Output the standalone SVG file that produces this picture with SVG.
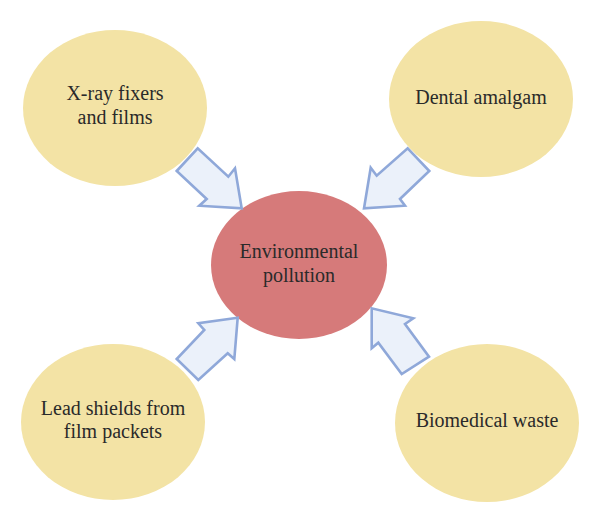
<svg xmlns="http://www.w3.org/2000/svg" width="600" height="522" viewBox="0 0 600 522">
<style>
.src{fill:#F3E3A5;}
.ctr{fill:#D67A7A;}
.arr{fill:#EBF1FA;stroke:#8FA8D9;stroke-width:2.6;stroke-linejoin:miter;}
text{font-family:"Liberation Serif","Times New Roman",serif;font-size:20px;fill:#2a2a2a;text-anchor:middle;}
</style>
<rect width="600" height="522" fill="#ffffff"/>
<g id="node-xray">
<ellipse class="src" cx="115" cy="108" rx="92" ry="78"/>
<text x="115" y="100">X-ray fixers</text>
<text x="115" y="124">and films</text>
</g>
<g id="node-dental">
<ellipse class="src" cx="481" cy="99" rx="92" ry="78"/>
<text x="481" y="104">Dental amalgam</text>
</g>
<g id="node-lead">
<ellipse class="src" cx="113" cy="422" rx="92" ry="78"/>
<text x="113" y="415">Lead shields from</text>
<text x="113" y="438">film packets</text>
</g>
<g id="node-bio">
<ellipse class="src" cx="487" cy="423" rx="92" ry="79"/>
<text x="487" y="427">Biomedical waste</text>
</g>
<g id="node-env">
<ellipse class="ctr" cx="299" cy="265" rx="88" ry="74"/>
<text x="299" y="258">Environmental</text>
<text x="299" y="282">pollution</text>
</g>
<g id="connectors">
<polygon class="arr" points="176.7,171 197.7,148.3 228.3,176.7 235,168.3 241.7,208.3 199.3,205.7 206.7,199"/>
<polygon class="arr" points="407.7,148.3 429.3,171 400,199 405,205.7 364,208.3 370.7,167.7 376.7,175.7"/>
<polygon class="arr" points="237.7,317.7 198.3,323.3 204.3,330 176.7,359 198.3,380 227.7,353.3 234.3,359"/>
<polygon class="arr" points="371.7,308.3 371.7,348.3 378.3,342.7 401.7,374 429,356.7 405,324 413.3,318.3"/>
</g>
</svg>
